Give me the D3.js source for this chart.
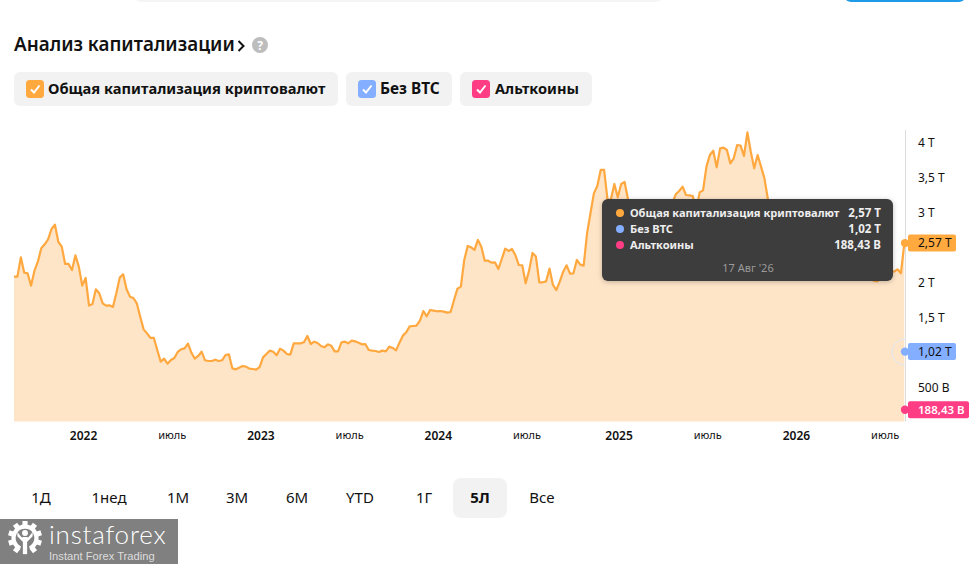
<!DOCTYPE html>
<html lang="ru">
<head>
<meta charset="utf-8">
<script src="https://cdn.jsdelivr.net/npm/d3@7"></script>
<style>
html,body{margin:0;padding:0;background:#fff}
svg{display:block}
text{font-family:"Noto Sans",sans-serif}
</style>
</head>
<body>
<svg id="c" width="975" height="564" viewBox="0 0 975 564"></svg>
<script>
// Weekly total crypto market cap, billions USD
const totalCap = [
2098,2098,2374,2155,2145,1969,2184,2312,2503,2560,2631,2779,2841,2593,2526,2279,2279,2193,2403,2241,
1969,2079,1684,1707,1917,1860,1717,1684,1688,1665,1860,2084,2131,1917,1812,1793,1717,1526,1345,1288,
1222,1222,1050,884,926,855,907,936,1022,1060,1074,1141,1012,926,965,1026,903,893,893,912,
893,903,979,988,788,774,798,822,812,784,779,769,807,945,993,1041,1026,974,1069,1041,
993,984,1145,1145,1145,1160,1250,1136,1169,1150,
1107,1088,1131,1112,1031,1031,1160,1169,1145,1184,1174,1155,1131,1136,1050,1041,1036,1022,1041,1031,
1098,1079,1045,1155,1255,1303,1388,1393,1398,1469,1607,1531,1622,1612,1603,1607,1598,1584,1593,1764,
1926,1955,2336,2536,2517,2479,2622,2526,2326,2326,2298,2303,2207,2350,2498,2465,2493,2403,2264,2260,
2003,2184,2436,2384,2017,2017,2031,2212,1979,1907,2026,2169,2260,2141,2145,2336,2269,2255,2717,3003,
3288,3393,3622,3622,3193,3203,3422,3231,3422,3450,3203,
3050,2900,2750,2800,2650,2500,2450,2300,2550,2700,2900,3000,3150,
3274,3321,3383,3264,3259,3250,3050,3302,3331,3669,3835,3897,3659,3931,3940,3907,3716,3788,3978,3969,
3821,4159,3883,3645,3835,3669,3502,3207,
3100,3050,2950,3020,2900,3020,2950,2850,2700,2550,2400,2300,2350,2250,2300,2280,2350,2400,2320,2380,
2300,2350,2280,2320,2400,2350,2250,2180,2120,2080,2040,2030,2060,2100,2150,
2189,2169,2203,2146,2570
];
const yTicks = [500,1500,2000,3000,3500,4000];
const yTickLabels = ["500 B","1,5 T","2 T","3 T","3,5 T","4 T"];
const xTickWeeks = [20,46,72,98,124,150,177,203,229,255];
const xTickLabels = ["2022","июль","2023","июль","2024","июль","2025","июль","2026","июль"];
const seriesNames = ["Общая капитализация криптовалют","Без BTC","Альткоины"];
const seriesColors = ["#FFA93F","#84AEFF","#FF3D84"];
const lastValues = [2570,1020,188.43];
const lastLabels = ["2,57 T","1,02 T","188,43 B"];
const tooltipDate = "17 Авг '26";
const rangeButtons = ["1Д","1нед","1М","3М","6М","YTD","1Г","5Л","Все"];
const rangeCenters = [41,109,178,237,297,360,424,480,542];

const svg = d3.select("#c");
const x = d3.scaleLinear().domain([0,totalCap.length-1]).range([14,904.3]);
const y = d3.scaleLinear().domain([30,4000]).range([421.4,143.5]);

// top page slivers
svg.append("rect").attr("x",135).attr("y",-8).attr("width",527).attr("height",10).attr("rx",6).attr("fill","#f5f5f5");
svg.append("rect").attr("x",845).attr("y",-8).attr("width",120).attr("height",10).attr("rx",6).attr("fill","#1e9be8");

// title
svg.append("text").attr("x",14).attr("y",51).attr("font-size",18.85).attr("font-weight",600).attr("fill","#111").text("Анализ капитализации");
svg.append("path").attr("d","M238.5 41 L243.5 46 L238.5 51").attr("fill","none").attr("stroke","#111").attr("stroke-width",2);
svg.append("circle").attr("cx",260).attr("cy",45).attr("r",8).attr("fill","#bdbdbd");
svg.append("text").attr("x",260).attr("y",49.5).attr("text-anchor","middle").attr("font-size",12).attr("font-weight",700).attr("fill","#fff").text("?");

// legend chips
const chips = [[14,324,26,48],[346,106,358,380],[460,132,472,495]];
const chipFont = [14.7,15.4,14.6];
chips.forEach((c,i)=>{
  svg.append("rect").attr("x",c[0]).attr("y",72).attr("width",c[1]).attr("height",34).attr("rx",6).attr("fill","#f2f2f2");
  svg.append("rect").attr("x",c[2]).attr("y",80).attr("width",18).attr("height",18).attr("rx",3.5).attr("fill",seriesColors[i]);
  svg.append("path").attr("d",`M${c[2]+5} 89.5 L${c[2]+8} 92.5 L${c[2]+13.5} 85.5`).attr("fill","none").attr("stroke","#fff").attr("stroke-width",2);
  svg.append("text").attr("x",c[3]).attr("y",94).attr("font-size",chipFont[i]).attr("font-weight",700).attr("fill","#111").text(seriesNames[i]);
});

// area + line
svg.append("path").datum(totalCap)
  .attr("d",d3.area().x((d,i)=>x(i)).y0(y(30)).y1(d=>y(d)))
  .attr("fill","#FFE5C8");
svg.append("path").datum(totalCap)
  .attr("d",d3.line().x((d,i)=>x(i)).y(d=>y(d)))
  .attr("fill","none").attr("stroke","#FFA83F").attr("stroke-width",2.2).attr("stroke-linejoin","round");

// axes
svg.append("line").attr("x1",905.5).attr("x2",905.5).attr("y1",130).attr("y2",421.5).attr("stroke","#dcdcdc");
const yAxis = svg.append("g").attr("transform","translate(918,-0.7)")
  .call(d3.axisRight(y).tickValues(yTicks).tickSize(0).tickPadding(0).tickFormat((d,i)=>yTickLabels[i]));
yAxis.select(".domain").remove();
yAxis.selectAll("text").attr("font-size",12).attr("fill","#111").style("font-family",'"Noto Sans",sans-serif');

const xAxis = svg.append("g").attr("transform","translate(0.8,422)")
  .call(d3.axisBottom(x).tickValues(xTickWeeks).tickSize(0).tickPadding(9).tickFormat((d,i)=>xTickLabels[i]));
xAxis.select(".domain").remove();
xAxis.selectAll("text")
  .style("font-family",'"Noto Sans",sans-serif')
  .attr("fill","#111")
  .attr("font-size",(d,i)=>i%2?11:12)
  .attr("font-weight",(d,i)=>i%2?400:600);

// halo, dots, price tags
svg.append("clipPath").attr("id","haloClip").append("rect").attr("x",880).attr("y",330).attr("width",26).attr("height",45);
svg.append("circle").attr("clip-path","url(#haloClip)").attr("cx",905).attr("cy",y(lastValues[1])).attr("r",13)
  .attr("fill","none").attr("stroke","#dfe7f5").attr("stroke-width",1);
const tagW = [48,48,61];
lastValues.forEach((v,i)=>{
  const cy = y(v)-0.5;
  svg.append("circle").attr("cx",905).attr("cy",cy).attr("r",4.2).attr("fill",seriesColors[i]);
  svg.append("rect").attr("x",908).attr("y",cy-8.5).attr("width",tagW[i]).attr("height",17).attr("rx",2).attr("fill",seriesColors[i]);
  svg.append("text").attr("x",918).attr("y",cy+4.2).attr("font-size",i==2?11.5:12).attr("font-weight",i==2?600:400).attr("fill",i==2?"#fff":"#111").text(lastLabels[i]);
});

// tooltip
const defs = svg.append("defs");
const fl = defs.append("filter").attr("id","sh").attr("x","-10%").attr("y","-20%").attr("width","120%").attr("height","140%");
fl.append("feDropShadow").attr("dx",0).attr("dy",1).attr("stdDeviation",2.5).attr("flood-color","#000").attr("flood-opacity",.25);
svg.append("rect").attr("x",602).attr("y",199).attr("width",291).attr("height",82).attr("rx",6).attr("fill","#3d3d3d").attr("filter","url(#sh)");
seriesNames.forEach((n,i)=>{
  const ry = 213+16*i;
  svg.append("circle").attr("cx",620).attr("cy",ry).attr("r",4).attr("fill",seriesColors[i]);
  svg.append("text").attr("x",630).attr("y",ry+4).attr("font-size",11.1).attr("font-weight",700).attr("fill","#eee").text(n);
  svg.append("text").attr("x",881).attr("y",ry+4).attr("text-anchor","end").attr("font-size",11.5).attr("font-weight",700).attr("fill","#eee").text(lastLabels[i]);
});
svg.append("text").attr("x",748).attr("y",272).attr("text-anchor","middle").attr("font-size",11).attr("fill","#9a9a9a").text(tooltipDate);

// range buttons
svg.append("rect").attr("x",453).attr("y",478).attr("width",54).attr("height",40).attr("rx",8).attr("fill","#f2f2f2");
rangeButtons.forEach((b,i)=>{
  svg.append("text").attr("x",rangeCenters[i]).attr("y",503).attr("text-anchor","middle")
    .attr("font-size",15).attr("font-weight",b==="5Л"?700:400).attr("fill","#111").text(b);
});

// watermark
svg.append("rect").attr("x",0).attr("y",519).attr("width",178).attr("height",45).attr("fill","#808080");
const gear = svg.append("g").attr("transform","translate(25,538) scale(0.85)").attr("fill","#fff");
d3.range(10).forEach(i=>{
  if(i===5) return;
  gear.append("rect").attr("x",-3).attr("y",-20).attr("width",6).attr("height",7).attr("transform",`rotate(${i*36})`);
});
gear.append("path").attr("d",d3.arc().innerRadius(11).outerRadius(16).startAngle(-2.7).endAngle(2.7)());
gear.append("circle").attr("cy",-6).attr("r",3.5);
gear.append("rect").attr("x",-2.5).attr("y",-1).attr("width",5).attr("height",20);
gear.append("path").attr("d","M-9 -7 L-4 -1 L4 -1 L9 -7 L9 -2 L3 4 L-3 4 L-9 -2 Z");
svg.append("text").attr("x",49).attr("y",544).attr("font-size",26).attr("font-weight",300).attr("letter-spacing",0.8).attr("fill","#fff").style("font-family","Lato,sans-serif").text("instaforex");
svg.append("text").attr("x",49).attr("y",560).attr("font-size",11.2).attr("fill","#ddd").style("font-family","'Liberation Sans',sans-serif").text("Instant Forex Trading");
</script>
</body>
</html>
